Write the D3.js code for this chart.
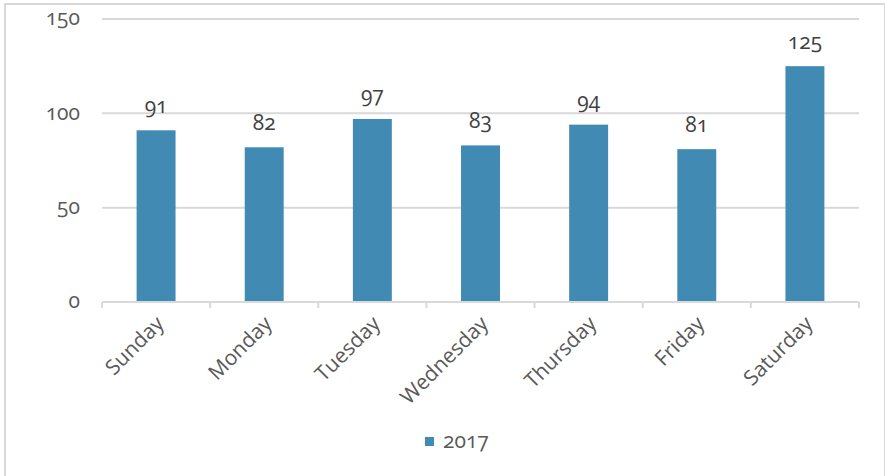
<!DOCTYPE html>
<html>
<head>
  <title>Visits by day</title>
  <script src="https://d3js.org/d3.v7.min.js"></script>
  <style type="text/css">
    body { margin: 0; background: #fff; }
    svg { font-family: "Open Sans", sans-serif; font-variant-numeric: oldstyle-nums; }
  </style>
</head>
<body>
  <div id="chart"></div>
  <script type="text/javascript">
    var days = ["Sunday", "Monday", "Tuesday", "Wednesday", "Thursday", "Friday", "Saturday"];
    var counts = [91, 82, 97, 83, 94, 81, 125];
    var yTicks = [0, 50, 100, 150];
    var seriesName = "2017";

    var width = 885, height = 476;
    var margin = { top: 19, right: 26, bottom: 174, left: 102 };

    var svg = d3.select("#chart").append("svg")
      .attr("width", width)
      .attr("height", height);

    // outer frame
    svg.append("rect")
      .attr("x", 5).attr("y", 4)
      .attr("width", width - 5).attr("height", height)
      .attr("fill", "#fff")
      .attr("stroke", "#d9d9d9")
      .attr("stroke-width", 2);

    var x = d3.scaleBand()
      .domain(days)
      .range([margin.left, width - margin.right])
      .paddingInner(0.64)
      .paddingOuter(0.32);

    var y = d3.scaleLinear()
      .domain([0, 150])
      .range([height - margin.bottom, margin.top]);

    // gridlines
    svg.append("g").selectAll("line")
      .data(yTicks.filter(function (d) { return d > 0; }))
      .enter().append("line")
      .attr("x1", margin.left).attr("x2", width - margin.right)
      .attr("y1", function (d) { return y(d); })
      .attr("y2", function (d) { return y(d); })
      .attr("stroke", "#d9d9d9")
      .attr("stroke-width", 2);

    // y labels
    svg.append("g").selectAll("text")
      .data(yTicks)
      .enter().append("text")
      .attr("x", 80)
      .attr("y", function (d) { return y(d); })
      .attr("dy", "0.3em")
      .attr("text-anchor", "end")
      .attr("fill", "#595959")
      .style("font-size", "21px")
      .text(function (d) { return d; });

    // bars
    svg.append("g").selectAll("rect")
      .data(counts)
      .enter().append("rect")
      .attr("x", function (d, i) { return x(days[i]); })
      .attr("y", function (d) { return y(d); })
      .attr("width", x.bandwidth())
      .attr("height", function (d) { return y(0) - y(d); })
      .attr("fill", "#418ab3");

    // value labels
    svg.append("g").selectAll("text")
      .data(counts)
      .enter().append("text")
      .attr("x", function (d, i) { return x(days[i]) + x.bandwidth() / 2; })
      .attr("y", function (d) { return y(d) - 17; })
      .attr("text-anchor", "middle")
      .attr("fill", "#404040")
      .style("font-size", "21px")
      .text(function (d) { return d; });

    // x axis
    var step = x.step();
    var gx = svg.append("g")
      .attr("transform", "translate(0," + y(0) + ")");
    gx.append("line")
      .attr("x1", margin.left).attr("x2", width - margin.right)
      .attr("stroke", "#d9d9d9").attr("stroke-width", 2);
    gx.selectAll(".tk")
      .data(d3.range(days.length + 1))
      .enter().append("line")
      .attr("x1", function (i) { return margin.left + i * step; })
      .attr("x2", function (i) { return margin.left + i * step; })
      .attr("y1", 0).attr("y2", 6)
      .attr("stroke", "#d9d9d9").attr("stroke-width", 2);
    gx.selectAll("text")
      .data(days)
      .enter().append("text")
      .attr("transform", function (d) {
        return "translate(" + (x(d) + x.bandwidth() / 2 + 9) + ",23) rotate(-45)";
      })
      .attr("text-anchor", "end")
      .attr("fill", "#595959")
      .style("font-size", "21px")
      .text(function (d) { return d; });

    // legend
    var lg = svg.append("g").attr("transform", "translate(425,441)");
    lg.append("rect")
      .attr("x", 0).attr("y", -4)
      .attr("width", 9).attr("height", 9)
      .attr("fill", "#418ab3");
    lg.append("text")
      .attr("x", 18).attr("y", 0)
      .attr("dy", "0.35em")
      .attr("fill", "#595959")
      .style("font-size", "21px")
      .text(seriesName);
  </script>
</body>
</html>
